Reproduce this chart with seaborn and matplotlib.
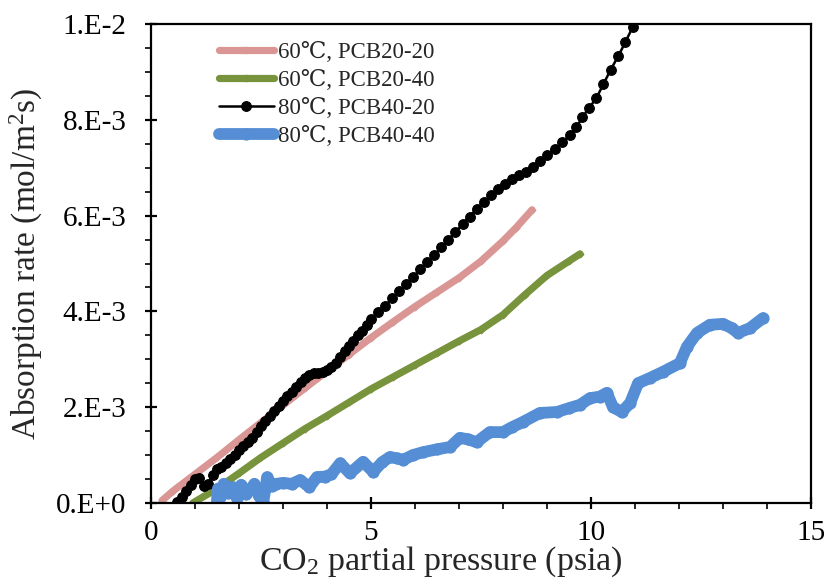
import numpy as np
import pandas as pd
import matplotlib
matplotlib.use("Agg")
import matplotlib.pyplot as plt
import seaborn as sns
from matplotlib.ticker import MultipleLocator, FuncFormatter

# ---- data: CO2 partial pressure (psia) vs absorption rate (x1e-3 mol/m2 s) ----
pink_x = [0.25, 0.5, 1.0, 1.5, 2.0, 2.5, 3.0, 3.5, 4.0, 4.5, 5.0, 5.5, 6.0,
          6.5, 7.0, 7.5, 8.0, 8.3, 8.66]
pink_y = [0.05, 0.25, 0.6, 0.95, 1.32, 1.68, 2.04, 2.40, 2.75, 3.10, 3.45,
          3.78, 4.10, 4.40, 4.70, 5.05, 5.47, 5.75, 6.12]

green_x = [0.95, 1.5, 2.0, 2.5, 3.0, 3.5, 4.0, 4.5, 5.0, 5.5, 6.0, 6.5, 7.0,
           7.5, 8.0, 8.5, 9.0, 9.5, 9.75]
green_y = [0.0, 0.30, 0.62, 0.95, 1.25, 1.55, 1.82, 2.10, 2.38, 2.63, 2.88,
           3.13, 3.38, 3.62, 3.93, 4.35, 4.75, 5.05, 5.20]

black_x = [0.60, 0.70, 0.80, 0.90, 1.00, 1.10, 1.20, 1.30, 1.40, 1.50, 1.60,
           1.70, 1.80, 1.90, 2.00, 2.10, 2.20, 2.30, 2.40, 2.50, 2.60, 2.70,
           2.80, 2.90, 3.00, 3.10, 3.20, 3.30, 3.40, 3.50, 3.60, 3.70, 3.80,
           3.90, 4.00, 4.10, 4.20, 4.30, 4.40, 4.50, 4.60, 4.70, 4.80, 4.90,
           5.00, 5.16, 5.32, 5.48, 5.64, 5.80, 5.96, 6.12, 6.28, 6.44, 6.60,
           6.76, 6.92, 7.08, 7.24, 7.40, 7.56, 7.72, 7.88, 8.04, 8.20, 8.36,
           8.52, 8.68, 8.84, 9.00, 9.18, 9.35, 9.52, 9.67, 9.80, 9.95, 10.12,
           10.28, 10.45, 10.62, 10.78, 10.95]
black_y = [0.02, 0.12, 0.25, 0.38, 0.50, 0.52, 0.35, 0.40, 0.58, 0.70, 0.76,
           0.84, 0.92, 1.00, 1.10, 1.20, 1.27, 1.36, 1.48, 1.60, 1.72, 1.82,
           1.92, 2.02, 2.12, 2.23, 2.32, 2.42, 2.52, 2.62, 2.68, 2.71, 2.72,
           2.74, 2.78, 2.84, 2.92, 3.05, 3.17, 3.27, 3.38, 3.50, 3.60, 3.72,
           3.84, 3.98, 4.12, 4.27, 4.42, 4.58, 4.72, 4.88, 5.03, 5.18, 5.34,
           5.50, 5.66, 5.82, 5.98, 6.14, 6.28, 6.42, 6.55, 6.66, 6.76, 6.84,
           6.92, 7.01, 7.13, 7.27, 7.40, 7.53, 7.68, 7.84, 8.05, 8.24, 8.45,
           8.74, 9.05, 9.33, 9.62, 9.94]

blue_x = [1.50, 1.52, 1.57, 1.65, 1.75, 1.86, 1.95, 2.05, 2.15, 2.25, 2.35,
          2.45, 2.55, 2.60, 2.64, 2.75, 2.85, 3.00, 3.20, 3.39, 3.60, 3.77,
          3.95, 4.10, 4.30, 4.52, 4.82, 5.05, 5.25, 5.43, 5.60, 5.73, 5.95,
          6.18, 6.50, 6.80, 7.02, 7.20, 7.40, 7.70, 8.00, 8.20, 8.45, 8.84,
          9.23, 9.50, 9.75, 9.98, 10.20, 10.36, 10.50, 10.70, 10.89, 11.07,
          11.34, 11.64, 12.02, 12.18, 12.41, 12.70, 13.00, 13.20, 13.34,
          13.61, 13.91]
blue_y = [0.05, 0.30, 0.13, 0.40, 0.20, 0.33, 0.10, 0.38, 0.18, 0.27, 0.40,
          0.15, 0.02, 0.30, 0.54, 0.35, 0.40, 0.42, 0.40, 0.48, 0.33, 0.54,
          0.55, 0.60, 0.83, 0.62, 0.86, 0.65, 0.85, 0.96, 0.93, 0.90, 1.00,
          1.06, 1.12, 1.17, 1.36, 1.33, 1.27, 1.48, 1.48, 1.58, 1.69, 1.88,
          1.90, 1.98, 2.05, 2.19, 2.22, 2.30, 2.00, 1.90, 2.09, 2.50, 2.61,
          2.74, 2.92, 3.26, 3.55, 3.72, 3.74, 3.65, 3.55, 3.65, 3.86]

labels = ["60\u2103, PCB20-20", "60\u2103, PCB20-40",
          "80\u2103, PCB40-20", "80\u2103, PCB40-40"]
colors = ["#D99694", "#77933C", "#000000", "#558ED5"]

# ---- style ----
sns.set_theme(style="ticks")
plt.rcParams["font.family"] = ["Liberation Serif", "DejaVu Serif", "Noto Sans CJK SC"]
plt.rcParams["mathtext.fontset"] = "custom"
plt.rcParams["mathtext.rm"] = "Liberation Serif"
plt.rcParams["mathtext.it"] = "Liberation Serif:italic"

fig = plt.figure(figsize=(8.28, 5.81), dpi=100)
ax = fig.add_axes([151 / 828, 1 - 503 / 581, 660 / 828, 479 / 581])

series = [(pink_x, pink_y), (green_x, green_y), (black_x, black_y), (blue_x, blue_y)]
styles = [
    dict(linewidth=5.2, marker="D", markersize=3.5),
    dict(linewidth=5.2, marker="D", markersize=3.5),
    dict(linewidth=1.8, marker="o", markersize=7),
    dict(linewidth=8.5, marker="o", markersize=8),
]
for (xs, ys), lab, col, st in zip(series, labels, colors, styles):
    df = pd.DataFrame({"p": xs, "rate": np.array(ys) * 1e-3})
    sns.lineplot(data=df, x="p", y="rate", ax=ax, color=col, label=lab,
                 sort=False, estimator=None, markeredgewidth=0.8,
                 markeredgecolor=col, markerfacecolor=col,
                 solid_capstyle="round", solid_joinstyle="round", **st)

ax.set_xlim(0, 15)
ax.set_ylim(0, 0.01)
ax.xaxis.set_major_locator(MultipleLocator(5))
ax.xaxis.set_minor_locator(MultipleLocator(1))
ax.yaxis.set_major_locator(MultipleLocator(0.002))
ax.yaxis.set_minor_locator(MultipleLocator(0.0005))


def sci_label(v, pos):
    if abs(v) < 1e-12:
        return "0.E+0"
    e = int(np.floor(np.log10(abs(v)) + 1e-9))
    m = int(round(v / 10 ** e))
    return f"{m}.E{e:+d}" if e >= 0 else f"{m}.E{e}"


ax.yaxis.set_major_formatter(FuncFormatter(sci_label))

for s in ax.spines.values():
    s.set_linewidth(1.6)
    s.set_color("black")
ax.tick_params(which="major", direction="inout", length=9, width=1.6,
               labelsize=21, colors="black")
ax.tick_params(axis="y", which="major", pad=13)
ax.tick_params(axis="x", which="major", pad=8)
ax.tick_params(which="minor", direction="out", length=4.5, width=1.4)

ax.set_xlabel(r"CO$_2$ partial pressure (psia)", fontsize=24.5)
ax.xaxis.set_label_coords((441 - 151) / 660, -(579 - 503) / 479)
ax.xaxis.label.set_va("bottom")
ax.set_ylabel(r"Absorption rate (mol/m$^2$s)", fontsize=24, labelpad=8)

leg = ax.legend(loc="upper left", bbox_to_anchor=(0.075, 1.0), frameon=False,
                fontsize=16.5, handlelength=2.4, handletextpad=0.2,
                labelspacing=0.3, borderpad=0.3)

fig.savefig("out.png", dpi=100)
